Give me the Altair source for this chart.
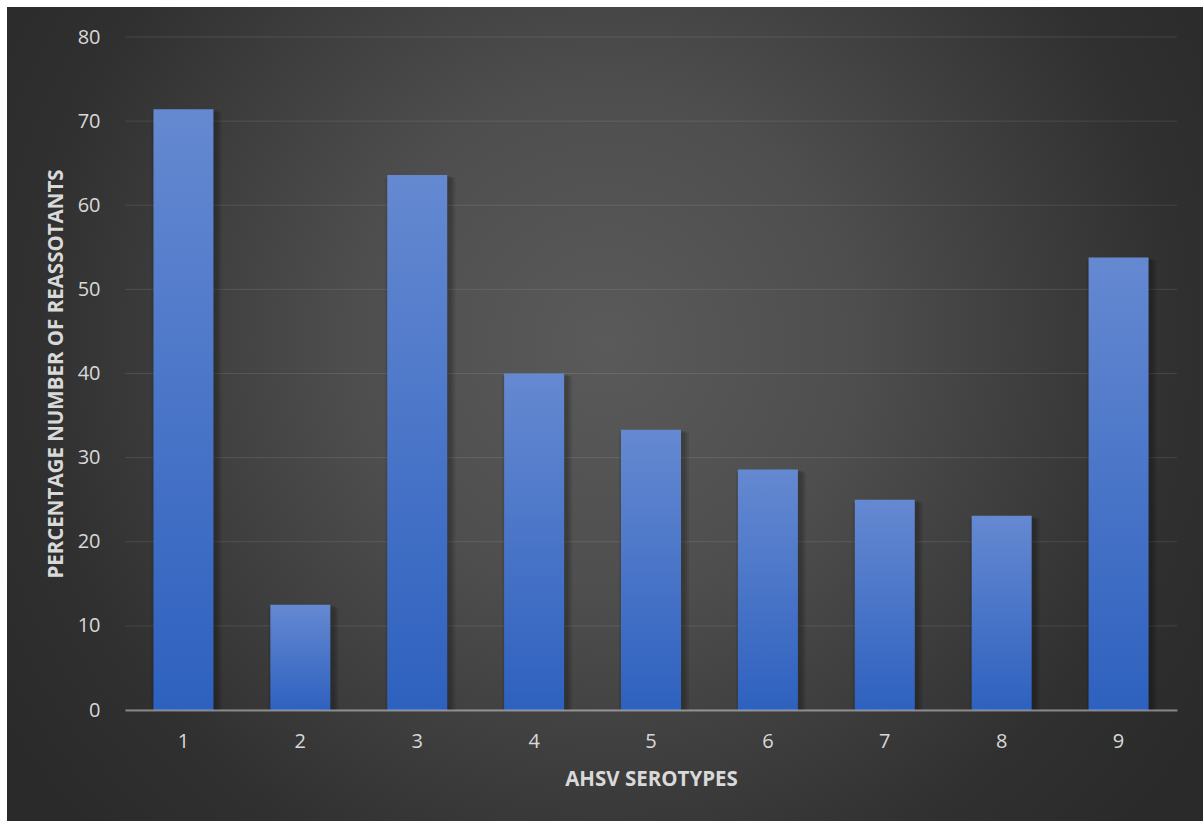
import altair as alt
import pandas as pd

# Percentage of reassortants per AHSV serotype
serotypes = ["1", "2", "3", "4", "5", "6", "7", "8", "9"]
percentages = [71.4, 12.5, 63.6, 40.0, 33.3, 28.6, 25.0, 23.1, 53.8]
y_ticks = [0, 10, 20, 30, 40, 50, 60, 70, 80]

bars_df = pd.DataFrame({"serotype": serotypes, "pct": percentages})
grid_df = pd.DataFrame({"tick": y_ticks})

W, H = 1052, 673
PAD = {"left": 125, "top": 37, "right": 26, "bottom": 111}
LABEL = "#d9d9d9"
FONT = "Open Sans"

x_enc = alt.X(
    "serotype:N",
    sort=serotypes,
    scale=alt.Scale(paddingInner=0, paddingOuter=0),
    axis=alt.Axis(
        title="AHSV SEROTYPES",
        titleColor=LABEL,
        titleFont=FONT,
        titleFontSize=20.5,
        titleFontWeight="bold",
        titleX=W / 2,
        titleY=69,
        titleAlign="center",
        titleBaseline="middle",
        labelColor=LABEL,
        labelFont=FONT,
        labelFontSize=20,
        labelPadding=21,
        labelAngle=0,
        ticks=False,
        tickSize=0,
        domainColor="#ffffff",
        domainOpacity=0.4,
        domainWidth=2,
        zindex=1,
    ),
)
y_scale = alt.Scale(domain=[0, 80], nice=False)
y_axis = alt.Axis(
    title="PERCENTAGE NUMBER OF REASSOTANTS",
    titleColor=LABEL,
    titleFont=FONT,
    titleFontSize=20.5,
    titleFontWeight="bold",
    titleX=-69,
    titleY=H / 2,
    titleAlign="center",
    titleBaseline="middle",
    values=y_ticks,
    labelColor=LABEL,
    labelFont=FONT,
    labelFontSize=20,
    labelPadding=25,
    ticks=False,
    tickSize=0,
    domain=False,
    grid=False,
    zindex=1,
)

# dark radial backdrop
backdrop = alt.Chart(bars_df).mark_rect(
    fill=alt.RadialGradient(
        gradient="radial",
        x1=0.5, y1=0.44, r1=0,
        x2=0.5, y2=0.44, r2=0.6,
        stops=[
            alt.GradientStop(offset=0, color="#5a5a5a"),
            alt.GradientStop(offset=0.35, color="#4e4e4e"),
            alt.GradientStop(offset=0.8, color="#303030"),
            alt.GradientStop(offset=1, color="#2a2a2a"),
        ],
    ),
    strokeWidth=0,
).encode(
    x=alt.value(-118), x2=alt.value(1078),
    y=alt.value(-30), y2=alt.value(784),
)

grid = alt.Chart(grid_df).mark_rule(
    color="#ffffff", opacity=0.1, strokeWidth=1
).encode(
    y=alt.Y("tick:Q", scale=y_scale, axis=y_axis)
)

# soft shadow under each bar
shadows = [
    alt.Chart(bars_df).mark_bar(
        width=w, color="#000000", opacity=0.09, xOffset=3, yOffset=dy
    ).encode(x=x_enc, y=alt.Y("pct:Q", scale=y_scale, axis=y_axis), y2=alt.datum(0))
    for w, dy in [(62, 1), (66, 2), (70, 3)]
]

bars = alt.Chart(bars_df).mark_bar(
    width=60,
    fill=alt.LinearGradient(
        gradient="linear",
        x1=0, y1=0, x2=0, y2=1,
        stops=[
            alt.GradientStop(offset=0, color="#6589d1"),
            alt.GradientStop(offset=1, color="#2e61bf"),
        ],
    ),
).encode(x=x_enc, y=alt.Y("pct:Q", scale=y_scale, axis=y_axis))

chart = alt.layer(backdrop, grid, *shadows, bars).properties(
    width=W,
    height=H,
    padding=PAD,
    autosize=alt.AutoSizeParams(type="none"),
    background="#ffffff",
).configure_view(stroke=None)

chart.save("out.html", embed_options={"renderer": "svg", "actions": False})
